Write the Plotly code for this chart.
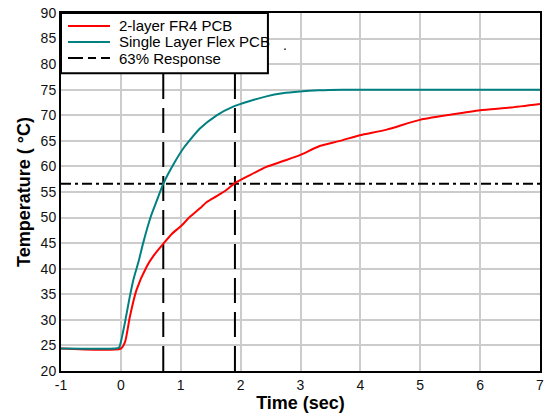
import plotly.graph_objects as go

# Data
fr4_t = [-1, 0, 0.07, 0.15, 0.26, 0.43, 0.55, 0.71, 0.85, 1.0, 1.15, 1.32, 1.43, 1.6, 1.75, 1.9,
         2.155, 2.43, 2.7, 2.99, 3.32, 3.66, 3.99, 4.44, 4.99, 5.5, 6.0, 6.5, 7.0]
fr4_temp = [24.4, 24.4, 25.7, 30.6, 35.8, 40.4, 42.6, 44.9, 46.8, 48.3, 50.1, 51.8, 53.0, 54.2, 55.3, 56.7,
            58.3, 59.9, 61.0, 62.2, 64.0, 65.0, 66.1, 67.2, 69.1, 70.1, 71.0, 71.5, 72.2]

flex_t = [-1, -0.1, -0.03, 0, 0.07, 0.14, 0.21, 0.3, 0.374, 0.5, 0.6, 0.708, 0.903, 1.042, 1.32,
          1.6, 1.876, 2.155, 2.43, 2.7, 2.99, 3.3, 3.7, 7.0]
flex_temp = [24.4, 24.4, 24.6, 25.7, 29.6, 34.0, 37.9, 41.6, 45.1, 50.2, 53.3, 56.6, 60.9, 63.5, 67.4,
             70.0, 71.7, 72.8, 73.7, 74.3, 74.65, 74.88, 75.0, 75.0]

response_level = 56.6
tau_times = [0.708, 1.905]

x_range = [-1, 7]
y_range = [20, 90]
x_ticks = [-1, 0, 1, 2, 3, 4, 5, 6, 7]
y_ticks = [20, 25, 30, 35, 40, 45, 50, 55, 60, 65, 70, 75, 80, 85, 90]

legend_names = ["2-layer FR4 PCB", "Single Layer Flex PCB", "63% Response"]
legend_colors = ["#ff0000", "#008080", "black"]
legend_dashes = ["solid", "solid", "15px,5px,8px,5px"]

FONT = "Liberation Sans, Arial"

fig = go.Figure()

vdash = "25px,9px"
for tx in tau_times:
    fig.add_trace(go.Scatter(x=[tx, tx], y=y_range, mode="lines", name=legend_names[2],
                             line=dict(color="black", width=2, dash=vdash),
                             showlegend=False, hoverinfo="skip"))
fig.add_trace(go.Scatter(x=x_range, y=[response_level, response_level], mode="lines",
                         name=legend_names[2],
                         line=dict(color="black", width=2, dash="10px,4px,3px,4px"),
                         showlegend=False, hoverinfo="skip"))

fig.add_trace(go.Scatter(x=fr4_t, y=fr4_temp, mode="lines", name=legend_names[0], showlegend=False,
                         line=dict(color=legend_colors[0], width=2, shape="spline", smoothing=0.6)))
fig.add_trace(go.Scatter(x=flex_t, y=flex_temp, mode="lines", name=legend_names[1], showlegend=False,
                         line=dict(color=legend_colors[1], width=2, shape="spline", smoothing=0.6)))

# Legend box (drawn to match the compact reference legend)
fig.add_shape(type="rect", xref="paper", yref="paper", x0=0, x1=0.432, y0=0.832, y1=1.0,
              fillcolor="white", line=dict(color="black", width=2), layer="above")
row_y = [0.9637, 0.919, 0.8743]
for name, col, dsh, ry in zip(legend_names, legend_colors, legend_dashes, row_y):
    fig.add_shape(type="line", xref="paper", yref="paper", x0=0.0146, x1=0.1023, y0=ry, y1=ry,
                  line=dict(color=col, width=2, dash=dsh), layer="above")
    fig.add_annotation(xref="paper", yref="paper", x=0.1169, y=ry, text=name, showarrow=False,
                       xanchor="left", yanchor="middle",
                       font=dict(family=FONT, size=15, color="black"))

fig.add_annotation(x=2.74, y=83.7, text=".", showarrow=False,
                   font=dict(family=FONT, size=14, color="black"))

axis_common = dict(showline=True, linecolor="black", linewidth=2, mirror=True,
                   showgrid=True, gridcolor="#cccccc", gridwidth=1.5, zeroline=False,
                   ticks="", automargin=False, ticklabeloverflow="allow",
                   tickfont=dict(family=FONT, size=14, color="#111"))

fig.update_xaxes(range=x_range, tickvals=x_ticks, ticktext=[str(v) for v in x_ticks],
                 title=dict(text="<b>Time (sec)</b>", font=dict(family=FONT, size=18, color="black"),
                            standoff=5),
                 **axis_common)
fig.update_yaxes(range=y_range, tickvals=y_ticks, ticktext=[str(v) for v in y_ticks],
                 title=dict(text="<b>Temperature ( °C)</b>", font=dict(family=FONT, size=18, color="black"),
                            standoff=5),
                 **axis_common)

fig.update_layout(
    width=546, height=415,
    margin=dict(l=61, r=6, t=13, b=44, autoexpand=False),
    plot_bgcolor="white", paper_bgcolor="white",
    font=dict(family=FONT, size=14, color="black"),
    showlegend=False,
)

fig.write_html("out.html", config={"displayModeBar": False},
               post_script="document.body.style.margin='0';")
